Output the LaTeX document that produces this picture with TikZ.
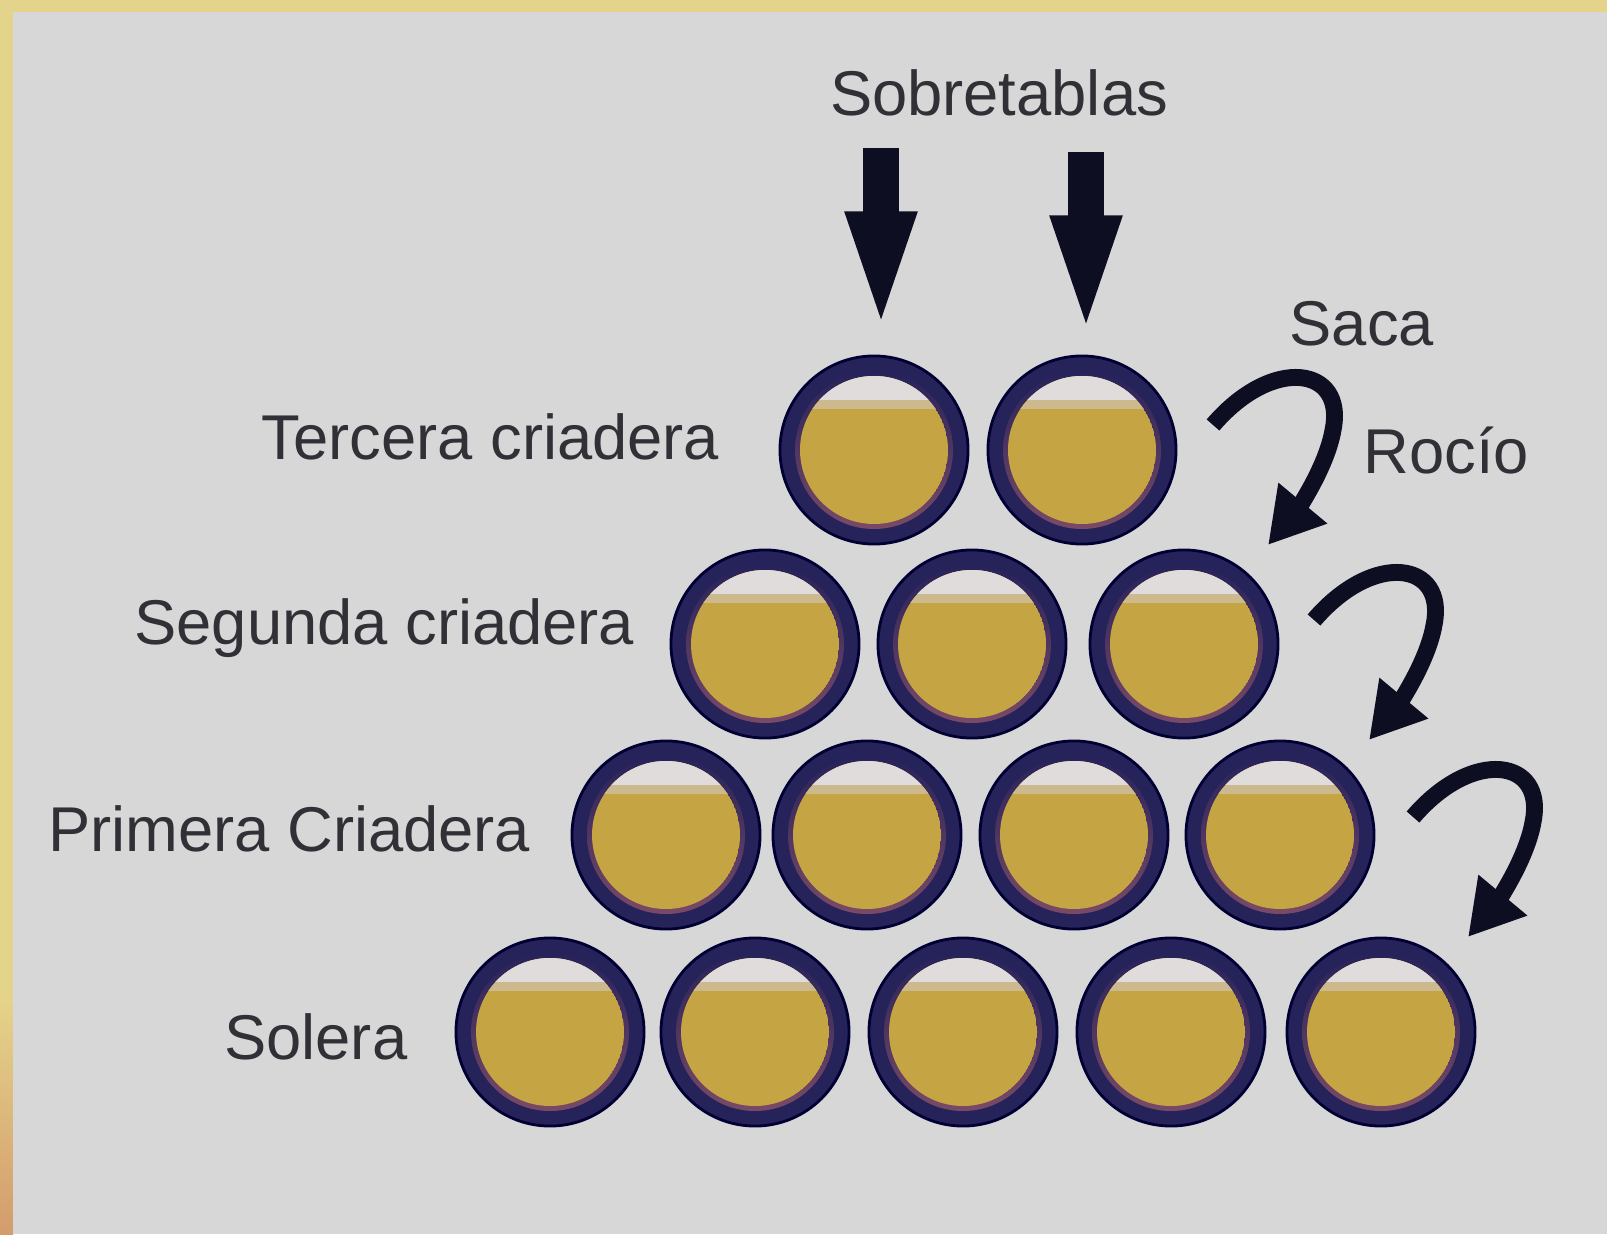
\documentclass[tikz,border=0pt]{standalone}
\usepackage{fontspec}
\setmainfont{Liberation Sans}
\usetikzlibrary{arrows.meta}

\definecolor{panel}{HTML}{D7D7D7}
\definecolor{frameyellow}{HTML}{E4D38A}
\definecolor{frameorange}{HTML}{D49C6C}
\definecolor{ringnavy}{HTML}{26225A}
\definecolor{ringplum}{HTML}{7A4A66}
\definecolor{wine}{HTML}{C4A443}
\definecolor{foam}{HTML}{CDB98E}
\definecolor{airgap}{HTML}{E0DCDC}
\definecolor{inkdark}{HTML}{303036}
\definecolor{arrowink}{HTML}{0E0E22}

\tikzset{
  cask/.style={circle, minimum size=1.88cm, inner sep=0pt, fill=ringnavy,
    draw=black!80!blue, line width=0.8pt},
  rowlabel/.style={text=inkdark, font=\fontsize{18}{22}\selectfont, inner sep=0pt},
  droparrow/.style={draw=arrowink, line width=10.2pt,
    -{Triangle[length=40pt,width=16.5pt]}},
  turnarrow/.style={draw=arrowink, line width=4.8pt,
    -{Triangle[length=15.5pt,width=17pt]}},
}

% one barrel: name, centre
\newcommand{\barrel}[2]{%
  \node[cask] (#1) at (#2) {};
  \shade[top color=ringnavy, middle color=ringnavy!70!ringplum, bottom color=ringplum]
    (#1.center) circle (79);
  \begin{scope}
    \clip (#1.center) circle (74);
    \fill[wine] (#1.center) circle (74);
    \fill[foam] ([shift={(-80,-80)}]#1.center) rectangle ([shift={(80,-41)}]#1.center);
    \fill[airgap] ([shift={(-80,-80)}]#1.center) rectangle ([shift={(80,-50)}]#1.center);
  \end{scope}
}

\begin{document}
\begin{tikzpicture}[x=0.01cm, y=-0.01cm]
 \useasboundingbox (0,0) rectangle (1607,1234);
 % frame and panel
 \fill[frameyellow] (0,0) rectangle (1607,1234);
 \shade[top color=frameyellow, bottom color=frameorange] (0,1000) rectangle (13,1234);
 \fill[panel] (13,12) rectangle (1607,1234);

 % the rows
 \foreach \x [count=\i] in {874,1082} \barrel{t\i}{\x,450};
 \foreach \x [count=\i] in {765,972,1184} \barrel{s\i}{\x,644};
 \foreach \x [count=\i] in {666,867,1074,1280} \barrel{p\i}{\x,835};
 \foreach \x [count=\i] in {550,755,963,1171,1381} \barrel{so\i}{\x,1032};

 \node[rowlabel, anchor=base east] (tercera) at (720,459) {Tercera criadera};
 \node[rowlabel, anchor=base east] (segunda) at (635,644) {Segunda criadera};
 \node[rowlabel, anchor=base east] (primera) at (531,851) {Primera Criadera};
 \node[rowlabel, anchor=base east] (solera) at (408,1059) {Solera};

 % new wine on top
 \node[rowlabel, anchor=base] (sobre) at (999,116) {Sobretablas};
 \coordinate (fill1) at (881,148);
 \coordinate (drop1) at (881,352);
 \coordinate (fill2) at (1086,152);
 \coordinate (drop2) at (1086,356);
 \draw[droparrow] (fill1) -- (drop1);
 \draw[droparrow] (fill2) -- (drop2);

 % saca / rocio
 \node[rowlabel, anchor=base west] (saca) at (1289,346) {Saca};
 \node[rowlabel, anchor=base west] (rocio) at (1363,473) {Rocío};
 \foreach \tx/\ty [count=\i] in {1213/425, 1314/620, 1413/817} {
   \coordinate (out\i) at (\tx,\ty);
   \coordinate (in\i) at (\tx+55,\ty+120);
   \draw[turnarrow] (out\i) .. controls (\tx+60,\ty-70) and (\tx+133,\ty-58) .. (\tx+120,\ty+5)
     .. controls (\tx+113,\ty+45) and (\tx+80,\ty+90) .. (in\i);
 }
\end{tikzpicture}
\end{document}
